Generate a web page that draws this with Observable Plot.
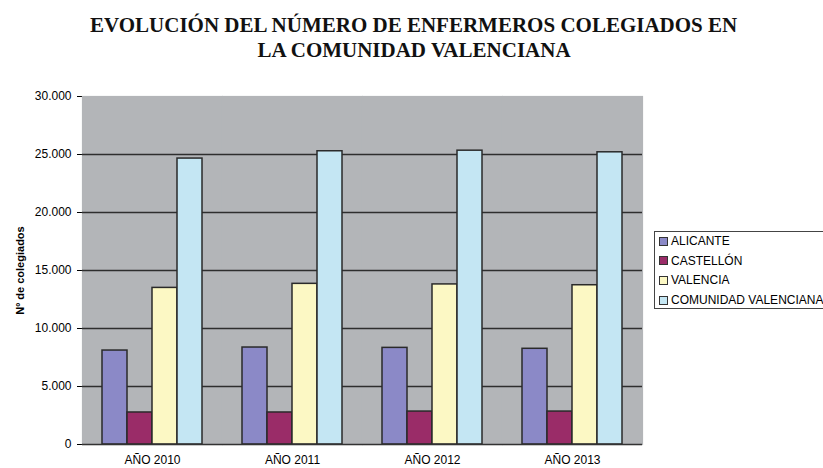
<!DOCTYPE html>
<html>
<head>
<meta charset="utf-8">
<script src="https://cdn.jsdelivr.net/npm/d3@7"></script>
<script src="https://cdn.jsdelivr.net/npm/@observablehq/plot@0.6"></script>
<style>
  html, body { margin: 0; padding: 0; background: #fff; }
  #wrap { position: relative; width: 823px; height: 468px; overflow: hidden; font-family: "Liberation Sans", Arial, sans-serif; }
  .t { position: absolute; font-family: "Liberation Serif", "Times New Roman", serif; font-weight: bold; font-size: 21px; color: #111; white-space: nowrap; line-height: 25px; }
  #t1 { left: 90px; top: 13px; }
  #t2 { left: 0; top: 38px; width: 828px; text-align: center; }
  #chart { position: absolute; left: 0; top: 0; }
  #chart svg { overflow: visible; }
  #legend { position: absolute; left: 654px; top: 231px; width: 180px; height: 78px; border: 1px solid #444; background: #fff; box-sizing: border-box; }
  .li { position: absolute; left: 4px; height: 14px; display: flex; align-items: center; font-size: 12px; color: #000; white-space: nowrap; }
  .sw { width: 7px; height: 7px; border: 1px solid #333; margin-right: 3px; flex: none; }
</style>
</head>
<body>
<div id="wrap">
  <div class="t" id="t1">EVOLUCIÓN DEL NÚMERO DE ENFERMEROS COLEGIADOS EN</div>
  <div class="t" id="t2">LA COMUNIDAD VALENCIANA</div>
  <div id="chart"></div>
  <div id="legend"></div>
</div>
<script>
const years = ["AÑO 2010", "AÑO 2011", "AÑO 2012", "AÑO 2013"];
const regions = ["ALICANTE", "CASTELLÓN", "VALENCIA", "COMUNIDAD VALENCIANA"];
const alicante = [8100, 8360, 8330, 8250];
const castellon = [2760, 2760, 2840, 2840];
const valencia = [13500, 13850, 13800, 13730];
const comunidad = [24650, 25280, 25330, 25190];
const yTicks = [0, 5000, 10000, 15000, 20000, 25000, 30000];
const colors = ["#8b89c7", "#9a2c68", "#fcf8c4", "#c4e6f3"];

const series = [alicante, castellon, valencia, comunidad];
const data = [];
years.forEach((yr, i) => {
  regions.forEach((r, j) => data.push({year: yr, region: r, value: series[j][i]}));
});

const fmt = d => d3.format(",")(d).replace(/,/g, ".");
const grey = "#b3b5b8";

const chart = Plot.plot({
  width: 823,
  height: 468,
  marginLeft: 80,
  marginRight: 180,
  marginTop: 96,
  marginBottom: 24,
  style: {fontFamily: "'Liberation Sans', Arial, sans-serif", fontSize: "12px", color: "#000", background: "transparent"},
  fx: {domain: years, padding: 0, label: null, axis: "bottom", tickSize: 0, tickPadding: 11},
  x: {type: "band", domain: regions, paddingInner: 0, paddingOuter: 0.76, axis: null},
  y: {domain: [0, 30000], ticks: yTicks, tickFormat: fmt, tickSize: 5, tickPadding: 6, line: true,
      label: "Nº de colegiados", labelAnchor: "center", labelOffset: 66, labelArrow: false},
  color: {domain: regions, range: colors},
  marks: [
    Plot.frame({fill: grey, stroke: grey, strokeWidth: 1.2}),
    Plot.gridY(yTicks.slice(1, -1), {stroke: "#2e2e2e", strokeOpacity: 1, strokeWidth: 1.4}),
    Plot.barY(data, {fx: "year", x: "region", y: "value", fill: "region", stroke: "#2a2a2a", strokeWidth: 1.5}),
    Plot.ruleY([0], {stroke: "#333", strokeWidth: 1.5})
  ]
});
document.getElementById("chart").appendChild(chart);

chart.querySelectorAll("text").forEach(t => {
  if (t.textContent === "Nº de colegiados") { t.setAttribute("font-weight", "bold"); t.setAttribute("font-size", "11px"); }
});

const lg = document.getElementById("legend");
regions.forEach((r, i) => {
  const d = document.createElement("div");
  d.className = "li";
  d.style.top = (2 + i * 19.7) + "px";
  const s = document.createElement("span");
  s.className = "sw";
  s.style.background = colors[i];
  d.appendChild(s);
  d.appendChild(document.createTextNode(r));
  lg.appendChild(d);
});
</script>
</body>
</html>
